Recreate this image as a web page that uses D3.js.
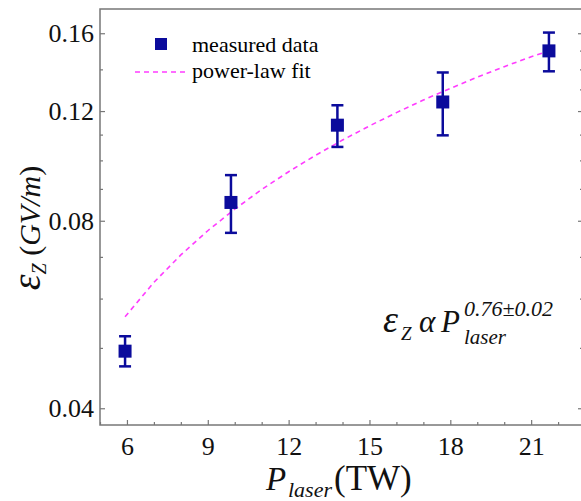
<!DOCTYPE html>
<html>
<head>
<meta charset="utf-8">
<script src="https://cdn.jsdelivr.net/npm/d3@7"></script>
<style>
  body { margin: 0; background: #fff; }
  text { font-family: "Liberation Serif", "Times New Roman", serif !important; }
</style>
</head>
<body>
<div id="chart"></div>
<script>
// measured points (laser power in TW, field in GV/m)
var power = [5.93, 9.86, 13.81, 17.72, 21.66];
var field = [0.0494, 0.0856, 0.1139, 0.1241, 0.1499];
var errLow = [0.0467, 0.0765, 0.1051, 0.1097, 0.139];
var errHigh = [0.0522, 0.0947, 0.1226, 0.1384, 0.1604];

// power-law fit curve
var fitPower = [5.93, 7, 8, 9, 10, 11, 12, 13, 14, 15, 16, 17, 18, 19, 20, 21, 21.66];
var fitField = [0.0561, 0.0637, 0.0705, 0.0771, 0.0835, 0.0898, 0.0959, 0.1019, 0.1078,
                0.1136, 0.1193, 0.125, 0.1305, 0.136, 0.1414, 0.1467, 0.1499];

var xTicks = [6, 9, 12, 15, 18, 21];
var xMinor = [5, 7, 8, 10, 11, 13, 14, 16, 17, 19, 20, 22];
var yTicks = [0.04, 0.08, 0.12, 0.16];
var yMinor = [0.05, 0.06, 0.07, 0.09, 0.10, 0.11, 0.14];

var W = 581, H = 501;
var margin = {top: 9, right: 0, bottom: 76, left: 100};
var width = W - margin.left - margin.right,
    height = H - margin.top - margin.bottom;

var blue = "#0b0b9c", axisCol = "#777", pink = "#ff3cff";

var svg = d3.select("#chart").append("svg")
    .attr("width", W).attr("height", H);
var g = svg.append("g")
    .attr("transform", "translate(" + margin.left + "," + margin.top + ")");

var x = d3.scaleLinear().domain([5, 22.85]).range([0, width]);
var y = d3.scaleLog().domain([0.0376, 0.175]).range([height, 0]);

// frame
g.append("rect").attr("x", 0).attr("y", 0).attr("width", width + 2).attr("height", height)
  .attr("fill", "none").attr("stroke", axisCol).attr("stroke-width", 1.5);

function styleAxis(sel) {
  sel.attr("font-family", "Liberation Serif");
  sel.select(".domain").remove();
  sel.selectAll("line").attr("stroke", axisCol).attr("stroke-width", 1.2);
  sel.selectAll("text").style("font-size", "26px").attr("fill", "#111");
}

// bottom axis
g.append("g").attr("transform", "translate(0," + height + ")")
  .call(d3.axisBottom(x).tickValues(xTicks).tickSize(-5).tickPadding(12).tickFormat(d3.format("d")))
  .call(styleAxis);
g.append("g").attr("transform", "translate(0," + height + ")")
  .call(d3.axisBottom(x).tickValues(xMinor).tickSize(-3).tickFormat(""))
  .call(styleAxis);

// left axis
g.append("g")
  .call(d3.axisLeft(y).tickValues(yTicks).tickSize(-5).tickPadding(6).tickFormat(d3.format(".2f")))
  .call(styleAxis);
g.append("g")
  .call(d3.axisLeft(y).tickValues(yMinor).tickSize(-3).tickFormat(""))
  .call(styleAxis);

// right axis ticks
g.append("g").attr("transform", "translate(" + (width + 2) + ",0)")
  .call(d3.axisRight(y).tickValues(yTicks).tickSize(-5).tickFormat(""))
  .call(styleAxis);
g.append("g").attr("transform", "translate(" + (width + 2) + ",0)")
  .call(d3.axisRight(y).tickValues(yMinor.concat([0.13, 0.15])).tickSize(-3).tickFormat(""))
  .call(styleAxis);

// fit line
var fitData = fitPower.map(function(p, i) { return [p, fitField[i]]; });
g.append("path").datum(fitData)
  .attr("fill", "none").attr("stroke", pink).attr("stroke-width", 1.6)
  .attr("stroke-dasharray", "5,4")
  .attr("d", d3.line().x(function(d) { return x(d[0]); }).y(function(d) { return y(d[1]); }));

// error bars + squares
var pts = power.map(function(p, i) {
  return {p: p, v: field[i], lo: errLow[i], hi: errHigh[i]};
});
var pg = g.append("g").selectAll("g").data(pts).enter().append("g");
pg.append("line")
  .attr("x1", function(d) { return x(d.p); }).attr("x2", function(d) { return x(d.p); })
  .attr("y1", function(d) { return y(d.lo); }).attr("y2", function(d) { return y(d.hi); })
  .attr("stroke", blue).attr("stroke-width", 2.5);
["lo", "hi"].forEach(function(k) {
  pg.append("line")
    .attr("x1", function(d) { return x(d.p) - 6; }).attr("x2", function(d) { return x(d.p) + 6; })
    .attr("y1", function(d) { return y(d[k]); }).attr("y2", function(d) { return y(d[k]); })
    .attr("stroke", blue).attr("stroke-width", 2.5);
});
pg.append("rect")
  .attr("x", function(d) { return x(d.p) - 6.5; }).attr("y", function(d) { return y(d.v) - 6.5; })
  .attr("width", 13).attr("height", 13).attr("fill", blue);

// legend
var lg = svg.append("g");
lg.append("rect").attr("x", 155).attr("y", 38).attr("width", 12).attr("height", 12).attr("fill", blue);
lg.append("text").attr("x", 192).attr("y", 52).style("font-size", "22px").text("measured data");
lg.append("line").attr("x1", 135).attr("x2", 188).attr("y1", 72).attr("y2", 72)
  .attr("stroke", pink).attr("stroke-width", 1.6).attr("stroke-dasharray", "5,4");
lg.append("text").attr("x", 192).attr("y", 78).style("font-size", "22px").text("power-law fit");

// x title
svg.append("text").attr("x", 266).attr("y", 490).attr("fill", "#111")
  .style("font-style", "italic").style("font-size", "33px").text("P");
svg.append("text").attr("x", 288).attr("y", 497).attr("fill", "#111")
  .style("font-style", "italic").style("font-size", "22px").text("laser");
svg.append("text").attr("x", 334).attr("y", 490).attr("fill", "#111")
  .style("font-size", "35px").text("(TW)");

// y title
var yt = svg.append("text").attr("transform", "translate(40,228) rotate(-90)")
  .attr("text-anchor", "middle").attr("fill", "#111");
yt.append("tspan").style("font-style", "italic").style("font-size", "40px").text("ε");
yt.append("tspan").style("font-style", "italic").style("font-size", "20px").attr("dy", 6).text("Z");
yt.append("tspan").style("font-size", "30px").attr("dy", -6).text(" (");
yt.append("tspan").style("font-style", "italic").style("font-size", "30px").text("GV/m");
yt.append("tspan").style("font-size", "30px").text(")");

// annotation
function ann(xp, yp, size, txt) {
  svg.append("text").attr("x", xp).attr("y", yp).attr("fill", "#111")
    .style("font-style", "italic").style("font-size", size + "px").text(txt);
}
ann(383, 332, 38, "ε");
ann(401, 340, 19, "Z");
ann(419, 332, 31, "α");
ann(441, 332, 31, "P");
ann(464, 316, 22, "0.76±0.02");
ann(464, 344, 21, "laser");
</script>
</body>
</html>
